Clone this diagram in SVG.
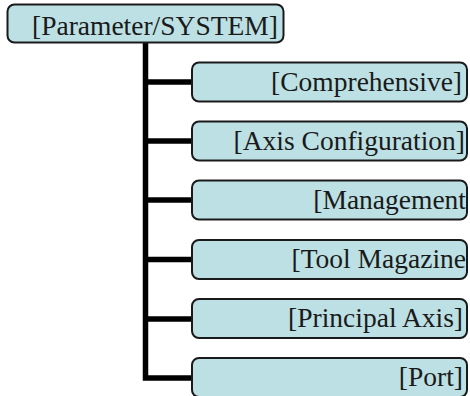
<svg xmlns="http://www.w3.org/2000/svg" width="470" height="396" viewBox="0 0 470 396">
<style>
.box{fill:#bce0e3;stroke:#1a1a1a;stroke-width:2}
.t{font-family:"Liberation Serif","Times New Roman",serif;font-size:27.5px;fill:#1a1a1a}
.e{text-anchor:end}
.c{fill:none;stroke:#000;stroke-width:5.5;stroke-linejoin:miter}
</style>
<rect width="470" height="396" fill="#fff"/>
<g id="connectors">
<path class="c" d="M145.5 43 V378 H192"/>
<path class="c" d="M145.5 82 H192"/>
<path class="c" d="M145.5 141 H192"/>
<path class="c" d="M145.5 200 H192"/>
<path class="c" d="M145.5 259.5 H192"/>
<path class="c" d="M145.5 319 H192"/>
</g>
<g id="root">
<rect class="box" x="7.5" y="4.5" width="276" height="38" rx="7"/>
<text class="t" x="32" y="35">[Parameter/SYSTEM]</text>
</g>
<g id="n1">
<rect class="box" x="192" y="62.5" width="275" height="39" rx="7"/>
<text class="t e" x="462" y="90.5">[Comprehensive]</text>
</g>
<g id="n2">
<rect class="box" x="192" y="121.5" width="275" height="39" rx="7"/>
<text class="t e" x="465" y="149.5">[Axis Configuration]</text>
</g>
<g id="n3">
<rect class="box" x="192" y="180.5" width="275" height="39" rx="7"/>
<text class="t e" x="466" y="208.5">[Management</text>
</g>
<g id="n4">
<rect class="box" x="192" y="240" width="275" height="39" rx="7"/>
<text class="t e" x="466" y="268">[Tool Magazine</text>
</g>
<g id="n5">
<rect class="box" x="192" y="299" width="275" height="39" rx="7"/>
<text class="t e" x="463" y="327">[Principal Axis]</text>
</g>
<g id="n6">
<rect class="box" x="192" y="358" width="275" height="39" rx="7"/>
<text class="t e" x="463" y="386">[Port]</text>
</g>
</svg>
